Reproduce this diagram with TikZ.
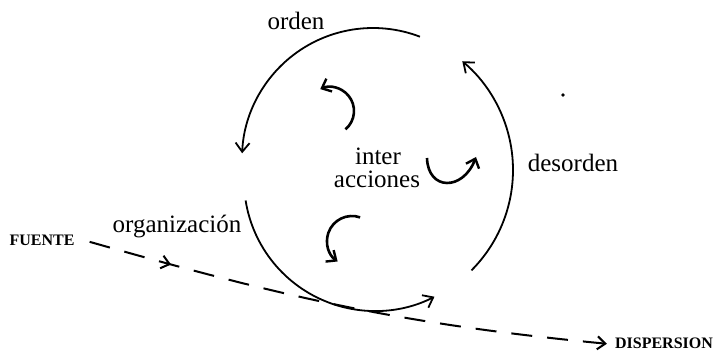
\documentclass[tikz,border=0pt]{standalone}
\usepackage{fontspec}
\setmainfont{Liberation Serif}
\usetikzlibrary{arrows.meta,decorations.markings}
\begin{document}
\begin{tikzpicture}[x=1pt,y=1pt,
  bigarc/.style={line width=1.8pt, -{Straight Barb[length=9pt,width=14pt,line width=1.8pt]}},
  smallarc/.style={line width=2.6pt, -{Straight Barb[length=8pt,width=14pt,line width=2.4pt]}},
  lbl/.style={font=\fontsize{25}{23}\selectfont, inner sep=0pt, anchor=base},
  caps/.style={font=\fontsize{16}{16}\selectfont\bfseries, inner sep=0pt, anchor=base},
  flow/.style={line width=2pt, dash pattern=on 21pt off 15pt,
    -{Straight Barb[length=8pt,width=13pt,line width=2pt]},
    postaction={decorate},
    decoration={markings, mark=at position 0.16 with {\arrow{Straight Barb[length=8pt,width=13pt,line width=2pt]}}}}
]
\useasboundingbox (0,0) rectangle (720,351);
% centres of the big arcs
\coordinate (ctop) at (373,192);
\coordinate (cright) at (371,181);
\coordinate (cbot) at (375,171);
% big arcs
\draw[bigarc] ([shift={(69:131)}]ctop) arc[start angle=69, end angle=177.5, radius=131];
\draw[bigarc] ([shift={(-45:142)}]cright) arc[start angle=-45, end angle=50, radius=142];
\draw[bigarc] ([shift={(189:131)}]cbot) arc[start angle=189, end angle=297, radius=131];
% small arrows
\coordinate (s1) at (330,240);
\draw[smallarc] ([shift={(-50:24)}]s1) arc[start angle=-50, end angle=114, radius=24];
\coordinate (s3) at (352,110);
\draw[smallarc] ([shift={(71:25)}]s3) arc[start angle=71, end angle=235, radius=25];
\coordinate (s2a) at (427,193);
\coordinate (s2b) at (476,194);
\draw[smallarc] (s2a) .. controls (428,160) and (463,160) .. (s2b);
% labels
\node[lbl] (orden) at (296,321) {orden};
\node[lbl] (inter) at (378,186) {inter};
\node[lbl] (acciones) at (377,163) {acciones};
\node[lbl] (desorden) at (573,179) {desorden};
\node[lbl] (organizacion) at (177,118) {organización};
\node[caps] (fuente) at (42,106) {FUENTE};
\node[caps] (dispersion) at (664,3) {DISPERSION};
% flow line
\draw[flow] ([xshift=15pt,yshift=-2pt]fuente.east) .. controls (287,53) and (401,27) .. ([xshift=-8pt,yshift=-1pt]dispersion.west);
% speck
\fill (563,256) circle[radius=1.8];
\end{tikzpicture}
\end{document}
